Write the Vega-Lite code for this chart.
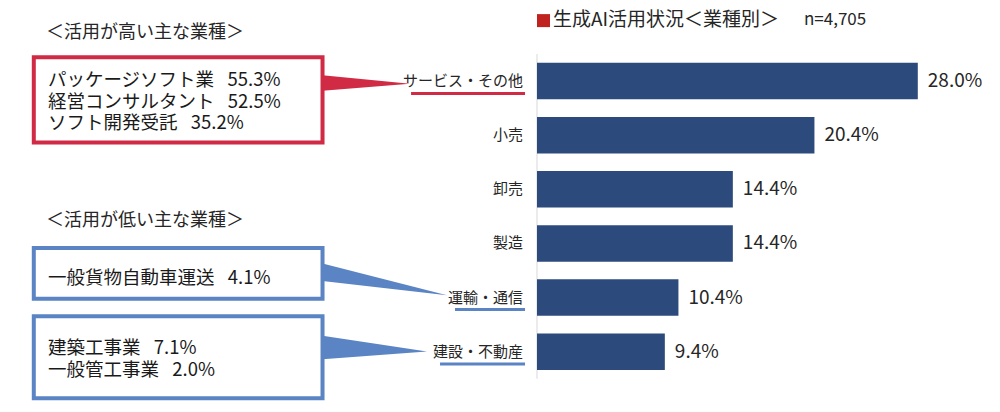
{
  "$schema": "https://vega.github.io/schema/vega-lite/v6.json",
  "width": 1000,
  "height": 412,
  "autosize": {"type": "fit", "contains": "padding"},
  "padding": 0,
  "config": {"view": {"stroke": null}, "font": "Noto Sans CJK JP"},
  "datasets": {
    "bars": [
      {"rank": 0, "name": "サービス・その他", "value": 28.0, "label": "28.0%"},
      {"rank": 1, "name": "小売", "value": 20.4, "label": "20.4%"},
      {"rank": 2, "name": "卸売", "value": 14.4, "label": "14.4%"},
      {"rank": 3, "name": "製造", "value": 14.4, "label": "14.4%"},
      {"rank": 4, "name": "運輸・通信", "value": 10.4, "label": "10.4%"},
      {"rank": 5, "name": "建設・不動産", "value": 9.4, "label": "9.4%"}
    ],
    "boxes": [
      {"kind": "high", "x1": -37.0, "x2": -15.77, "y1": -0.442, "y2": 1.136},
      {"kind": "low", "x1": -37.0, "x2": -15.77, "y1": 3.083, "y2": 4.021},
      {"kind": "low", "x1": -37.0, "x2": -15.77, "y1": 4.345, "y2": 5.86}
    ],
    "tris": [
      {"id": "t1", "kind": "high", "x": -15.77, "ya": -0.108, "yb": 0.18},
      {"id": "t1", "kind": "high", "x": -9.34, "ya": 0.049, "yb": 0.049},
      {"id": "t2", "kind": "low", "x": -15.77, "ya": 3.372, "yb": 3.696},
      {"id": "t2", "kind": "low", "x": -6.62, "ya": 3.958, "yb": 3.958},
      {"id": "t3", "kind": "low", "x": -15.77, "ya": 4.706, "yb": 5.139},
      {"id": "t3", "kind": "low", "x": -8.09, "ya": 4.995, "yb": 4.995}
    ],
    "ulines": [
      {"kind": "high", "x1": -9.26, "x2": -0.88, "y": 0.229},
      {"kind": "low", "x1": -6.03, "x2": -0.88, "y": 4.219},
      {"kind": "low", "x1": -7.13, "x2": -0.88, "y": 5.229}
    ],
    "notes": [
      {"role": "box", "x": -35.96, "y": -0.018, "text": ["パッケージソフト業\u2002 55.3%", "経営コンサルタント\u2002 52.5%", "ソフト開発受託\u2002 35.2%"]},
      {"role": "box", "x": -35.96, "y": 3.633, "text": ["一般貨物自動車運送\u2002 4.1%"]},
      {"role": "box", "x": -35.96, "y": 4.941, "text": ["建築工事業\u2002 7.1%", "一般管工事業\u2002 2.0%"]},
      {"role": "section", "x": -36.1, "y": -0.884, "text": "＜活用が高い主な業種＞"},
      {"role": "section", "x": -36.1, "y": 2.578, "text": "＜活用が低い主な業種＞"},
      {"role": "title", "x": 1.176, "y": -1.136, "text": "生成AI活用状況＜業種別＞"},
      {"role": "n", "x": 19.63, "y": -1.136, "text": "n=4,705"},
      {"role": "mark", "x": 0.478, "y": -1.118, "text": ""}
    ]
  },
  "layer": [
    {
      "data": {"values": [{}]},
      "mark": {"type": "rule", "color": "#d9d9d9", "strokeWidth": 1},
      "encoding": {
        "x": {"datum": 0, "type": "quantitative", "scale": {"domain": [-39.485, 34.044], "nice": false, "zero": false}, "axis": null},
        "y": {"datum": -0.5, "type": "quantitative", "scale": {"domain": [-1.4064, 6.0224], "nice": false, "zero": false, "reverse": true}, "axis": null},
        "y2": {"datum": 5.5}
      }
    },
    {
      "data": {"name": "bars"},
      "mark": {"type": "bar", "orient": "horizontal", "size": 36.5, "color": "#2D4A7C"},
      "encoding": {
        "x": {"field": "value", "type": "quantitative", "scale": {"domain": [-39.485, 34.044], "nice": false, "zero": false}, "axis": null},
        "x2": {"datum": 0},
        "y": {"field": "rank", "type": "quantitative", "scale": {"domain": [-1.4064, 6.0224], "nice": false, "zero": false, "reverse": true}, "axis": null}
      }
    },
    {
      "data": {"name": "bars"},
      "mark": {"type": "text", "align": "left", "baseline": "middle", "dx": 10, "fontSize": 19, "color": "#262626"},
      "encoding": {
        "x": {"field": "value", "type": "quantitative"},
        "y": {"field": "rank", "type": "quantitative"},
        "text": {"field": "label"}
      }
    },
    {
      "data": {"name": "bars"},
      "mark": {"type": "text", "align": "right", "baseline": "middle", "dx": -14, "fontSize": 15, "color": "#262626"},
      "encoding": {
        "x": {"datum": 0, "type": "quantitative"},
        "y": {"field": "rank", "type": "quantitative"},
        "text": {"field": "name"}
      }
    },
    {
      "data": {"name": "boxes"},
      "mark": {"type": "rect", "fill": "white", "strokeWidth": 4},
      "encoding": {
        "x": {"field": "x1", "type": "quantitative"},
        "x2": {"field": "x2"},
        "y": {"field": "y1", "type": "quantitative"},
        "y2": {"field": "y2"},
        "stroke": {"field": "kind", "type": "nominal", "scale": {"domain": ["high", "low"], "range": ["#D02A44", "#5A84C3"]}, "legend": null}
      }
    },
    {
      "data": {"name": "tris"},
      "mark": {"type": "area", "orient": "vertical", "opacity": 1},
      "encoding": {
        "x": {"field": "x", "type": "quantitative"},
        "y": {"field": "ya", "type": "quantitative"},
        "y2": {"field": "yb"},
        "detail": {"field": "id"},
        "color": {"field": "kind", "type": "nominal", "scale": {"domain": ["high", "low"], "range": ["#D02A44", "#5A84C3"]}, "legend": null}
      }
    },
    {
      "data": {"name": "ulines"},
      "mark": {"type": "rule", "strokeWidth": 3},
      "encoding": {
        "x": {"field": "x1", "type": "quantitative"},
        "x2": {"field": "x2"},
        "y": {"field": "y", "type": "quantitative"},
        "color": {"field": "kind", "type": "nominal", "scale": {"domain": ["high", "low"], "range": ["#D02A44", "#5A84C3"]}, "legend": null}
      }
    },
    {
      "data": {"name": "notes"},
      "transform": [{"filter": "datum.role === 'box'"}],
      "mark": {"type": "text", "align": "left", "baseline": "middle", "fontSize": 18.5, "lineHeight": 21.5, "color": "#1a1a1a"},
      "encoding": {
        "x": {"field": "x", "type": "quantitative"},
        "y": {"field": "y", "type": "quantitative"},
        "text": {"field": "text"}
      }
    },
    {
      "data": {"name": "notes"},
      "transform": [{"filter": "datum.role === 'section'"}],
      "mark": {"type": "text", "align": "left", "baseline": "middle", "fontSize": 18, "color": "#262626"},
      "encoding": {
        "x": {"field": "x", "type": "quantitative"},
        "y": {"field": "y", "type": "quantitative"},
        "text": {"field": "text"}
      }
    },
    {
      "data": {"name": "notes"},
      "transform": [{"filter": "datum.role === 'title'"}],
      "mark": {"type": "text", "align": "left", "baseline": "middle", "fontSize": 19, "color": "#262626"},
      "encoding": {
        "x": {"field": "x", "type": "quantitative"},
        "y": {"field": "y", "type": "quantitative"},
        "text": {"field": "text"}
      }
    },
    {
      "data": {"name": "notes"},
      "transform": [{"filter": "datum.role === 'n'"}],
      "mark": {"type": "text", "align": "left", "baseline": "middle", "fontSize": 17, "color": "#262626"},
      "encoding": {
        "x": {"field": "x", "type": "quantitative"},
        "y": {"field": "y", "type": "quantitative"},
        "text": {"field": "text"}
      }
    },
    {
      "data": {"name": "notes"},
      "transform": [{"filter": "datum.role === 'mark'"}],
      "mark": {"type": "square", "size": 169, "filled": true, "color": "#C0231F", "opacity": 1},
      "encoding": {
        "x": {"field": "x", "type": "quantitative"},
        "y": {"field": "y", "type": "quantitative"}
      }
    }
  ]
}
